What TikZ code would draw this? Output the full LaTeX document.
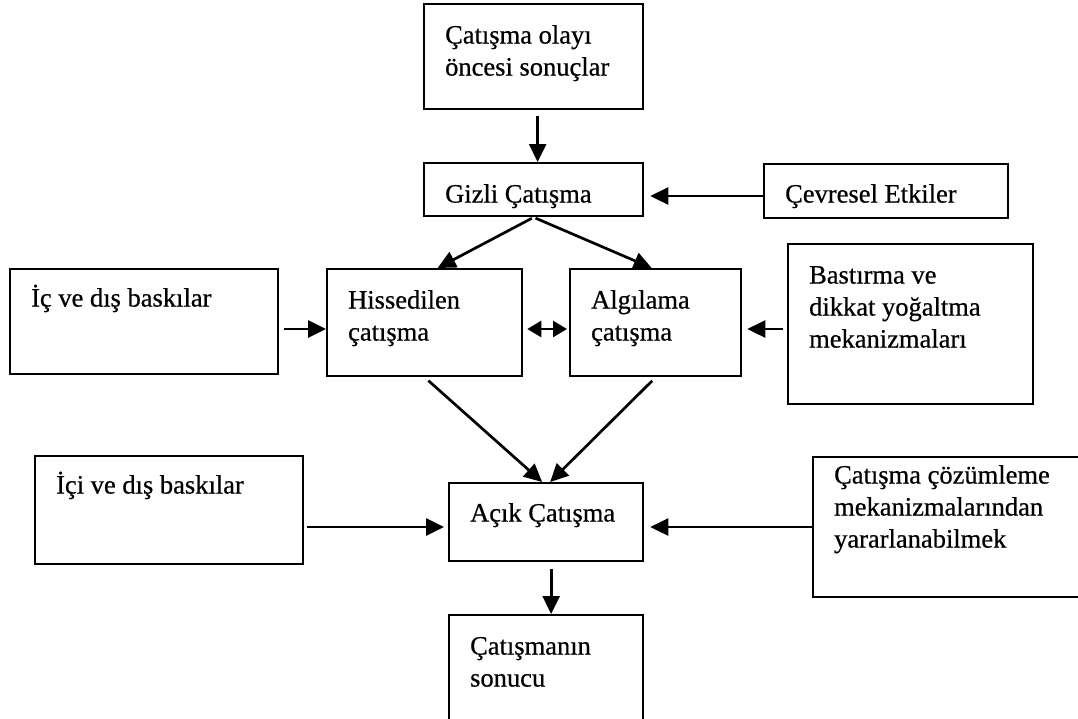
\documentclass[tikz,border=0pt]{standalone}
\usepackage{fontspec}
\setmainfont{Liberation Serif}
\newfontfamily\kutuyazi{Liberation Serif}[FakeBold=0.6]
\usepackage{tikz}
\usetikzlibrary{arrows.meta}

\begin{document}
\begin{tikzpicture}[
  x=1pt,y=-1pt,>=Triangle,
  ok/.style={-{Triangle[length=18pt,width=17pt]},line width=2.7pt},
  cift/.style={{Triangle[length=14pt,width=16pt]}-{Triangle[length=14pt,width=16pt]},line width=2.7pt},
  kutu/.style={draw,line width=2.3pt,anchor=north west,inner xsep=21pt,inner ysep=0pt,
    font=\kutuyazi\fontsize{26.5}{32}\selectfont}
]

\newcommand{\kutu}[4]{\parbox[c][#2][t]{\dimexpr#1-42pt\relax}{\raggedright\vspace*{#3}\strut#4}}

\clip (0,0) rectangle (1078,718);

\node[kutu] (olay) at (423,3) {\kutu{219pt}{105pt}{17pt}{Çatışma olayı\\öncesi sonuçlar}};
\node[kutu] (gizli) at (423,162) {\kutu{219pt}{53pt}{17pt}{Gizli Çatışma}};
\node[kutu] (cevre) at (763,163) {\kutu{244pt}{54pt}{16pt}{Çevresel Etkiler}};

\node[kutu] (ic) at (9,268) {\kutu{268pt}{105pt}{15pt}{İç ve dış baskılar}};
\node[kutu] (hiss) at (326,268) {\kutu{195pt}{107pt}{17pt}{Hissedilen\\çatışma}};
\node[kutu] (algi) at (569,268) {\kutu{171pt}{107pt}{17pt}{Algılama\\çatışma}};
\node[kutu] (bast) at (787,243) {\kutu{245pt}{160pt}{17pt}{Bastırma ve\\dikkat yoğaltma\\mekanizmaları}};

\node[kutu] (ici) at (34,455) {\kutu{268pt}{108pt}{15pt}{İçi ve dış baskılar}};
\node[kutu] (acik) at (448,482) {\kutu{194pt}{78pt}{16pt}{Açık Çatışma}};
\node[kutu] (cozum) at (812,456) {\kutu{283pt}{140pt}{4pt}{Çatışma çözümleme\\mekanizmalarından\\yararlanabilmek}};

\node[kutu] (sonuc) at (448,614) {\kutu{194pt}{130pt}{17pt}{Çatışmanın\\sonucu}};

\coordinate (gizlisira) at (0,196);
\coordinate (ustsira) at (0,329);
\coordinate (altsira) at (0,527);

\draw[ok,shorten <=6pt] ([xshift=4pt]olay.south) -- ([xshift=4pt]gizli.north);
\draw[ok,shorten >=6pt] (cevre.west |- gizlisira) -- (gizli.east |- gizlisira);
\draw[ok,shorten <=2pt] (gizli.south) -- ([xshift=13pt]hiss.north);
\draw[ok,shorten <=2pt] (gizli.south) -- ([xshift=-4pt]algi.north);
\draw[ok,shorten <=5pt] (ic.east |- ustsira) -- (hiss.west |- ustsira);
\draw[cift,shorten <=4pt,shorten >=2pt] (hiss.east |- ustsira) -- (algi.west |- ustsira);
\draw[ok,shorten <=4pt,shorten >=5pt] (bast.west |- ustsira) -- (algi.east |- ustsira);
\draw[ok,shorten <=5pt] (hiss.south) -- ([xshift=-4pt]acik.north);
\draw[ok,shorten <=5pt] (algi.south) -- ([xshift=4pt]acik.north);
\draw[ok,shorten <=3pt,shorten >=4pt] (ici.east |- altsira) -- (acik.west |- altsira);
\draw[ok,shorten >=6pt] (cozum.west |- altsira) -- (acik.east |- altsira);
\draw[ok,shorten <=7pt] ([xshift=5pt]acik.south) -- ([xshift=5pt]sonuc.north);

\end{tikzpicture}
\end{document}
